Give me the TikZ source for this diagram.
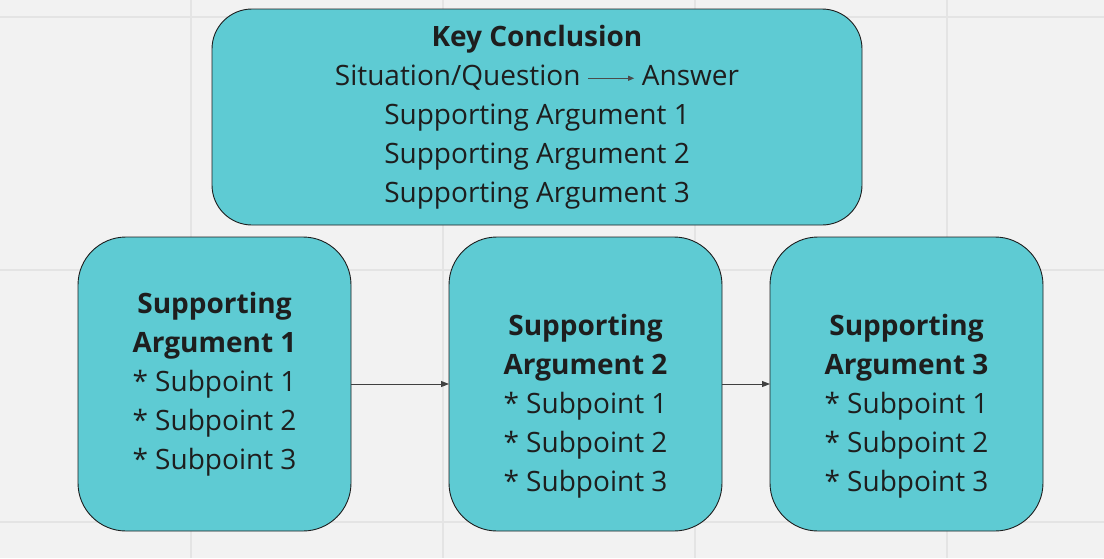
\documentclass[tikz,border=0pt]{standalone}
\usepackage{fontspec}
\setmainfont{Open Sans}
\usetikzlibrary{positioning,arrows.meta}
\definecolor{boxfill}{HTML}{5ECBD3}
\definecolor{paper}{HTML}{F2F2F2}
\definecolor{gridline}{HTML}{E4E4E4}
\definecolor{ink}{HTML}{1E1E1E}
\newcommand{\thenarrow}{\tikz[baseline=-7pt]\draw[-{Triangle[length=6pt,width=5pt]},line width=0.8pt,ink!80] (0pt,0pt) -- (46pt,0pt);}
\tikzset{
  argbox/.style={draw=ink,line width=0.9pt,fill=boxfill,rounded corners=48pt,
    minimum width=273pt,minimum height=294pt,align=center,text=ink,
    font=\fontsize{28}{39}\selectfont,inner sep=0pt,outer sep=0pt},
  link/.style={-{Triangle[length=8pt,width=6pt]},line width=0.9pt,draw=ink!85}
}
\begin{document}
\begin{tikzpicture}[x=1pt,y=-1pt]
        \fill[paper] (0,0) rectangle (1104,558);
        \useasboundingbox (0,0) rectangle (1104,558);
        \foreach \gx in {191,443,695,947}
          \draw[gridline,line width=1.5pt] (\gx,0) -- (\gx,558);
        \foreach \gy in {17,270,522}
          \draw[gridline,line width=1.5pt] (0,\gy) -- (1104,\gy);

        \node[argbox,minimum width=650pt,minimum height=216pt,rounded corners=40pt] (key) at (537,117)
          {\textbf{Key Conclusion}\\ Situation/Question \thenarrow\ Answer\\ Supporting Argument 1\\ Supporting Argument 2\\ Supporting Argument 3};
        \node[argbox] (arg1) at (214.5,384)
          {\textbf{Supporting}\\ \textbf{Argument 1}\\ * Subpoint 1\\ * Subpoint 2\\ * Subpoint 3};
        \node[argbox,right=98pt of arg1] (arg2)
          {\strut\\ \textbf{Supporting}\\ \textbf{Argument 2}\\ * Subpoint 1\\ * Subpoint 2\\ * Subpoint 3};
        \node[argbox,right=48pt of arg2] (arg3)
          {\strut\\ \textbf{Supporting}\\ \textbf{Argument 3}\\ * Subpoint 1\\ * Subpoint 2\\ * Subpoint 3};

        \draw[link] (arg1) -- (arg2);
        \draw[link] (arg2) -- (arg3);
      \end{tikzpicture}
\end{document}
